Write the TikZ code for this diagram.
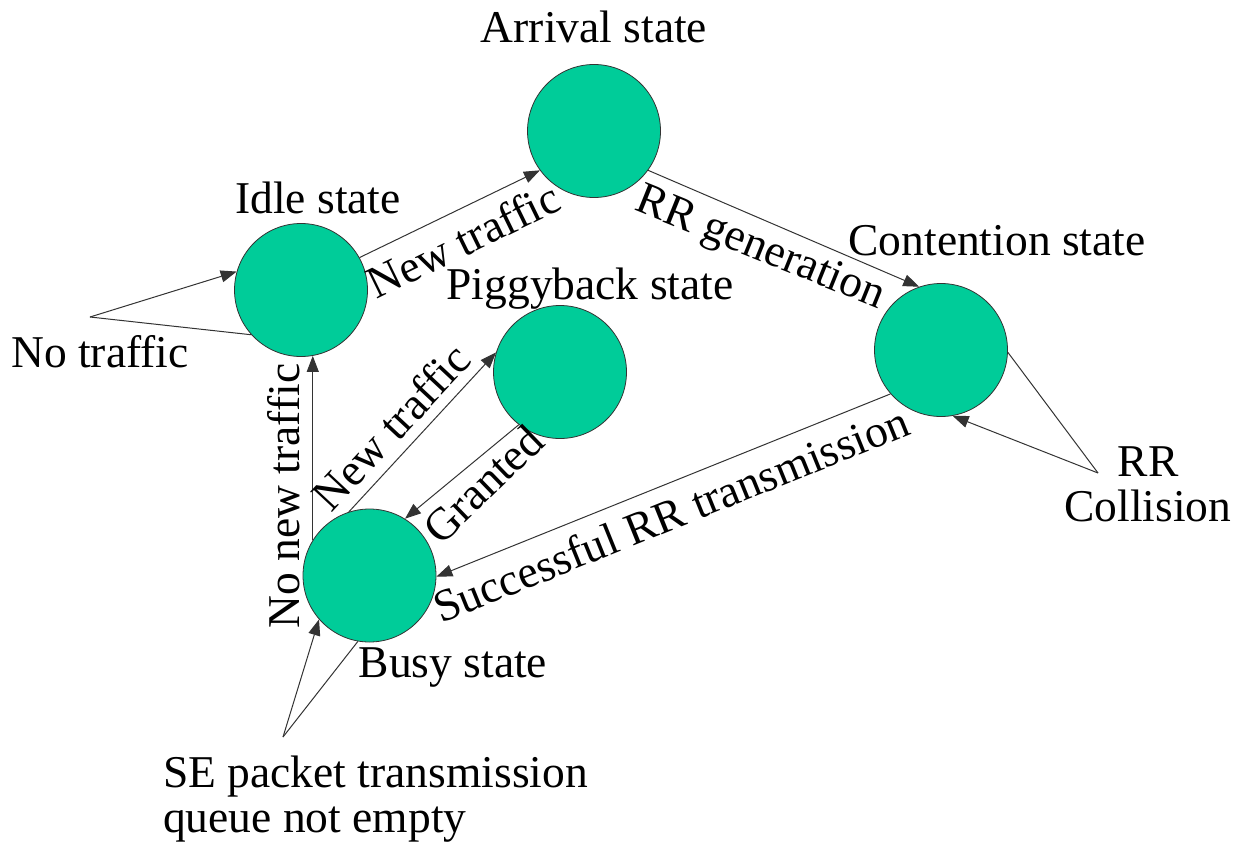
\documentclass[tikz,border=0pt]{standalone}
\usepackage{fontspec}
\setmainfont{Liberation Serif}
\usetikzlibrary{arrows.meta}
\definecolor{stategreen}{RGB}{0,204,153}
\begin{document}
\begin{tikzpicture}[x=1pt,y=-1pt,
  state/.style={circle,draw=black!80,line width=0.8pt,fill=stategreen,minimum size=133pt,inner sep=0pt},
  lbl/.style={font=\fontsize{45.5}{45}\selectfont,inner sep=0pt},
  conn/.style={draw=black!80,line width=1pt},
  arr/.style={conn,-{Triangle[length=16pt,width=12pt]}}]
\useasboundingbox (0,0) rectangle (1246,848);
\node[state] (arrival) at (594,131) {};
\node[state] (idle) at (301,290) {};
\node[state] (piggy) at (560,372) {};
\node[state] (cont) at (941,350) {};
\node[state] (busy) at (369.5,575.5) {};

\node[lbl] (larr) at (594,27) {Arrival state};
\node[lbl] (lidle) at (318,198) {Idle state};
\node[lbl] (lpig) at (590,289) {Piggyback state};
\node[lbl] (lcont) at (997,241) {Contention state};
\node[lbl] (lbusy) at (453,668) {Busy state};
\node[lbl] (lnot) at (100,352) {No traffic};
\node[lbl,align=center] (lrr) at (1148,484) {RR\\Collision};
\node[lbl,align=left,anchor=west] (lse) at (163,799) {SE packet transmission\\queue not empty};

\coordinate (cnot) at (90,317);
\coordinate (crr) at (1098,473);
\coordinate (cse) at (283,737);

\draw[arr] (idle.29) -- (arrival.216);
\draw[arr] (arrival.-36) -- (cont.109);
\draw[arr] (busy.148) -- (busy.148 |- idle.-80);
\draw[arr] (busy.108) -- (piggy.163);
\draw[arr] (piggy.232) -- (busy.58);
\draw[arr] (cont.221) -- (busy.-1);
\draw[arr] (cnot) -- (idle.164);
\draw[conn] (cnot) -- (idle.222);
\draw[arr] (crr) -- (cont.-80);
\draw[conn] (crr) -- (cont.-2);
\draw[arr] (cse) -- (busy.221);
\draw[conn] (cse) -- (busy.260);

\node[lbl,rotate=26] (t1) at (463,240) {New traffic};
\node[lbl,rotate=-22] (t2) at (760,250) {RR generation};
\node[lbl,rotate=90] (t3) at (284,496) {No new traffic};
\node[lbl,rotate=47] (t4) at (391,427) {New traffic};
\node[lbl,rotate=44] (t5) at (483,484) {Granted};
\node[lbl,rotate=22] (t6) at (671,514) {Successful RR transmission};
\end{tikzpicture}
\end{document}
